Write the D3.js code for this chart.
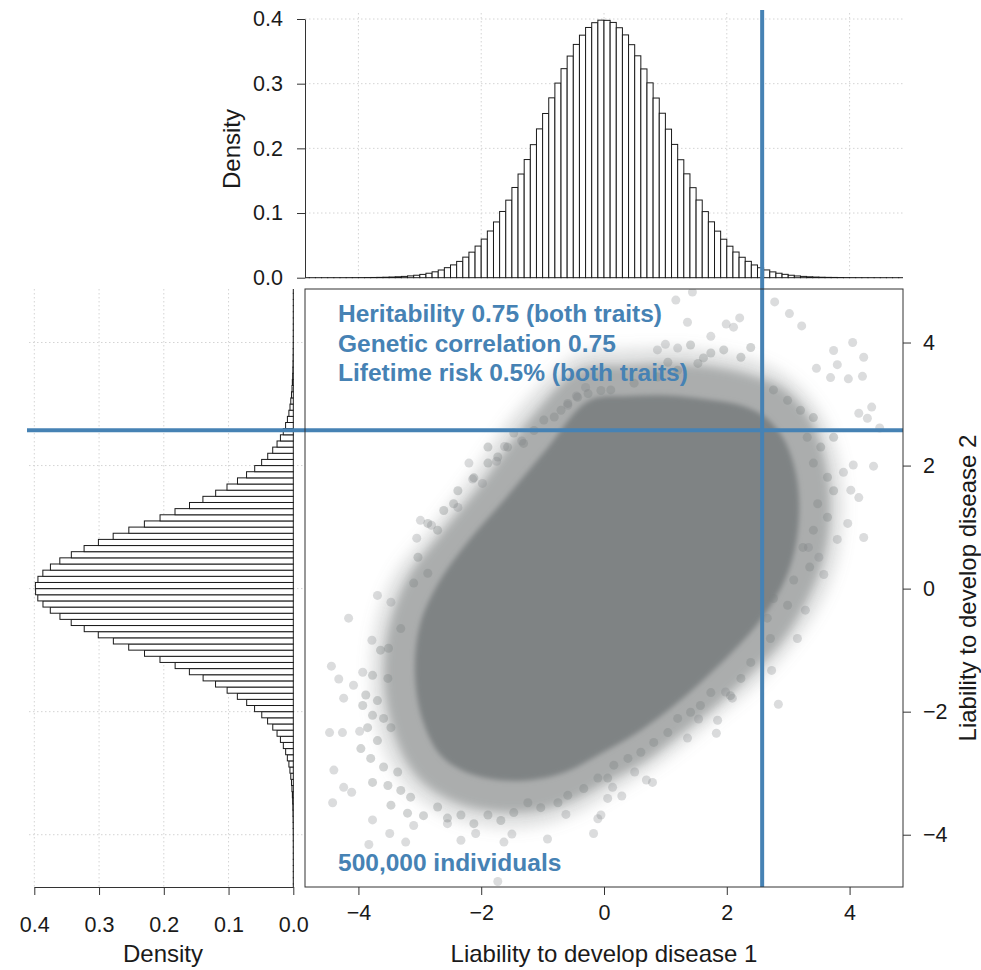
<!DOCTYPE html>
<html>
<head>
<meta charset="utf-8">
<script src="https://cdn.jsdelivr.net/npm/d3@7"></script>
<style>
  body { margin: 0; background: #fff; }
  svg { display: block; }
  text { font-family: "Liberation Sans", Arial, Helvetica, sans-serif; }
</style>
</head>
<body>
<svg id="chart" width="981" height="970"></svg>
<script>
// ---- histogram bins (width 0.1, first bin starts at -4.9) ----
const binStart = -4.9;
const binWidth = 0.1;

// Density of liability for disease 1 (top margin histogram)
const densityDisease1 = [
  0.00001, 0.00001, 0.00001, 0.00002, 0.00002, 0.00003, 0.00005, 0.00008, 0.00011, 0.00016,
  0.00024, 0.00036, 0.00052, 0.00074, 0.00104, 0.00146, 0.0020, 0.0028, 0.0038, 0.0051,
  0.0069, 0.0091, 0.0119, 0.0155, 0.0198, 0.0252, 0.0318, 0.0395, 0.0489, 0.0597,
  0.0722, 0.0862, 0.1024, 0.1199, 0.1395, 0.1603, 0.1827, 0.2057, 0.2301, 0.2539,
  0.2781, 0.3009, 0.3232, 0.3427, 0.3607, 0.3750, 0.3869, 0.3943, 0.3982,
  0.3979, 0.3947, 0.3865, 0.3754, 0.3603, 0.3431, 0.3228, 0.3013, 0.2778, 0.2543,
  0.2297, 0.2061, 0.1824, 0.1606, 0.1392, 0.1201, 0.1022, 0.0864, 0.0720, 0.0595,
  0.0487, 0.0397, 0.0316, 0.0253, 0.0197, 0.0154, 0.0120, 0.0090, 0.0069, 0.0052,
  0.0038, 0.0027, 0.0020, 0.0014, 0.0010, 0.0007, 0.0005, 0.0004, 0.00025, 0.00016,
  0.00011, 0.00007, 0.00005, 0.00003, 0.00002, 0.00002, 0.00001, 0.00001, 0.00001
];

// Density of liability for disease 2 (left margin histogram)
const densityDisease2 = [
  0.00001, 0.00001, 0.00002, 0.00002, 0.00003, 0.00004, 0.00005, 0.00007, 0.00011, 0.00017,
  0.00025, 0.00035, 0.00053, 0.00073, 0.00105, 0.00145, 0.0021, 0.0028, 0.0039, 0.0052,
  0.0068, 0.0092, 0.0118, 0.0154, 0.0199, 0.0251, 0.0317, 0.0397, 0.0487, 0.0598,
  0.0720, 0.0864, 0.1022, 0.1201, 0.1393, 0.1605, 0.1825, 0.2059, 0.2298, 0.2542,
  0.2779, 0.3012, 0.3229, 0.3430, 0.3604, 0.3753, 0.3866, 0.3946, 0.3980,
  0.3983, 0.3944, 0.3868, 0.3751, 0.3606, 0.3428, 0.3231, 0.3010, 0.2782, 0.2540,
  0.2300, 0.2058, 0.1827, 0.1603, 0.1396, 0.1199, 0.1024, 0.0862, 0.0722, 0.0596,
  0.0489, 0.0395, 0.0318, 0.0251, 0.0199, 0.0155, 0.0119, 0.0091, 0.0068, 0.0051,
  0.0039, 0.0028, 0.0020, 0.0015, 0.0010, 0.0007, 0.0005, 0.00035, 0.00024, 0.00016,
  0.00010, 0.00007, 0.00005, 0.00003, 0.00002, 0.00001, 0.00001, 0.00001, 0.00001
];

const liabilityTicks = [-4, -2, 0, 2, 4];
const densityTicks = [0, 0.1, 0.2, 0.3, 0.4];
const threshold = 2.576; // liability threshold for 0.5% lifetime risk

const annotationLines = [
  "Heritability 0.75 (both traits)",
  "Genetic correlation 0.75",
  "Lifetime risk 0.5% (both traits)"
];
const sampleLabel = "500,000 individuals";
const xTitle = "Liability to develop disease 1";
const yTitle = "Liability to develop disease 2";
const densityTitle = "Density";

// Outline of the saturated part of the point cloud (liability units)
const cloudCore = [
  [-0.25, 3.05], [0.4, 3.13], [1.05, 3.14], [1.65, 3.08], [2.15, 3.0], [2.58, 2.82],
  [2.9, 2.48], [3.1, 1.98], [3.18, 1.35], [3.1, 0.6], [2.88, 0.0], [2.52, -0.55],
  [2.1, -1.02], [1.57, -1.53], [1.04, -1.98], [0.48, -2.38], [-0.05, -2.68], [-0.6, -2.97],
  [-1.1, -3.1], [-1.6, -3.12], [-2.2, -3.0], [-2.65, -2.72], [-2.95, -2.15], [-3.08, -1.38],
  [-3.0, -0.6], [-2.72, 0.05], [-2.25, 0.72], [-1.62, 1.45], [-0.95, 2.25]
];
// Outline of the half-saturated fringe
const cloudFringe = [
  [-0.4, 3.55], [0.4, 3.63], [1.1, 3.66], [1.8, 3.6], [2.4, 3.47], [2.92, 3.25],
  [3.33, 2.8], [3.58, 2.15], [3.68, 1.35], [3.58, 0.5], [3.3, -0.2], [2.9, -0.85],
  [2.42, -1.35], [1.88, -1.85], [1.3, -2.32], [0.7, -2.78], [0.08, -3.12], [-0.55, -3.45],
  [-1.15, -3.62], [-1.8, -3.62], [-2.48, -3.45], [-3.05, -3.05], [-3.42, -2.35], [-3.58, -1.42],
  [-3.48, -0.55], [-3.18, 0.2], [-2.65, 0.9], [-1.98, 1.72], [-1.25, 2.7]
];
// Outline of the faint outer haze
const cloudHaze = [
  [-0.45, 3.8], [0.4, 3.9], [1.15, 3.92], [1.85, 3.85], [2.5, 3.7], [3.05, 3.4],
  [3.5, 2.9], [3.8, 2.2], [3.9, 1.35], [3.8, 0.45], [3.5, -0.3], [3.05, -0.95],
  [2.55, -1.5], [1.95, -2.0], [1.35, -2.5], [0.75, -2.95], [0.1, -3.35], [-0.55, -3.7],
  [-1.2, -3.88], [-1.85, -3.88], [-2.6, -3.68], [-3.25, -3.2], [-3.65, -2.45], [-3.8, -1.45],
  [-3.7, -0.5], [-3.4, 0.25], [-2.85, 0.95], [-2.2, 1.8], [-1.45, 2.85]
];
// Individuals along the edge of the dense cloud
const fringePoints = [
  [-3.31, -0.65], [-3.64, -1.00], [-3.51, -0.97], [-3.77, -1.41], [-3.52, -1.46], [-3.88, -1.73],
  [-3.69, -1.82], [-3.93, -1.90], [-3.77, -2.06], [-3.59, -2.11], [-3.85, -2.26], [-3.47, -2.26],
  [-3.69, -2.47], [-3.96, -2.60], [-3.80, -2.76], [-3.59, -2.90], [-3.36, -2.98], [-3.77, -3.15],
  [-3.52, -3.20], [-3.31, -3.28], [-3.15, -3.39], [-3.47, -3.52], [-3.20, -3.65], [-2.94, -3.69],
  [-2.71, -3.55], [-2.55, -3.73], [-2.33, -3.68], [-2.12, -3.82], [-1.89, -3.68], [-1.68, -3.77],
  [-1.47, -3.64], [-1.24, -3.48], [-1.03, -3.56], [-0.75, -3.48], [-0.59, -3.36], [-0.33, -3.25],
  [-0.10, -3.08],
  [-2.87, 1.06], [-2.71, 0.95], [-2.61, 1.27], [-2.45, 1.38], [-2.38, 1.59], [-2.12, 1.80],
  [-1.89, 2.04], [-1.73, 2.14], [-1.89, 2.30], [-1.57, 2.30], [-1.47, 2.53], [-1.31, 2.36],
  [-1.14, 2.57], [-0.98, 2.74], [-0.81, 2.79], [-0.70, 2.90], [-0.59, 3.01], [-0.43, 3.11],
  [-0.26, 3.17], [-0.05, 3.22], [-3.03, 0.51], [-2.87, 0.25], [-3.10, 0.09],
  [0.11, 3.23], [0.49, 3.34], [0.87, 3.44], [1.20, 3.55], [1.53, 3.66], [1.74, 3.83],
  [1.95, 3.88], [2.23, 3.76], [2.39, 3.92], [1.41, 3.96], [1.62, 3.75], [1.04, 3.68],
  [2.76, 3.23], [2.99, 3.06], [3.20, 2.90], [3.41, 2.78], [3.31, 2.46], [3.53, 2.30],
  [3.74, 2.46], [3.41, 2.04], [3.64, 1.81], [3.74, 1.59], [3.48, 1.38], [3.64, 1.16],
  [3.41, 0.95], [3.24, 0.67], [3.35, 0.35], [3.09, 0.14],
  [2.76, -0.16], [2.99, -0.27], [2.66, -0.48], [2.71, -0.81], [2.39, -1.20], [2.23, -1.46],
  [2.06, -1.74], [1.74, -1.69], [1.57, -1.90], [1.41, -2.01], [1.20, -2.11], [1.04, -2.34],
  [0.81, -2.50], [0.60, -2.66], [0.39, -2.76], [0.16, -2.87], [0.06, -3.08]
];
// Individuals lying well outside the dense cloud
const outlierPoints = [
  [2.78, 4.66], [3.02, 4.47], [3.22, 4.27], [1.17, 4.69], [1.36, 4.33], [1.99, 4.30],
  [2.11, 4.25], [2.21, 4.40], [1.44, 4.82], [4.05, 4.00], [4.23, 3.76], [3.74, 3.87],
  [3.80, 3.64], [3.98, 3.41], [4.21, 3.45], [3.69, 3.43], [3.46, 3.58], [4.36, 2.95],
  [4.15, 2.85], [4.29, 2.77], [4.49, 2.61], [4.39, 1.99], [4.06, 2.01], [3.90, 1.89],
  [4.02, 1.60], [4.15, 1.48], [4.23, 0.83], [3.97, 1.06], [3.80, 0.80], [1.74, 4.10],
  [1.00, 3.97], [0.87, 3.88], [1.20, 3.91], [3.50, 0.51], [3.33, 0.67], [3.58, 0.23],
  [3.15, -0.81], [3.28, -0.35], [2.73, -1.33], [2.84, -1.88], [1.85, -2.14], [1.83, -2.35],
  [2.09, -1.78], [1.98, -1.68], [1.54, -2.12], [1.36, -2.43], [0.79, -3.15], [0.69, -3.11],
  [0.50, -2.98], [0.29, -3.37], [0.06, -3.41], [0.14, -3.23], [-0.05, -3.68],
  [-4.16, -0.48], [-4.44, -1.26], [-4.32, -1.47], [-4.24, -1.78], [-4.47, -2.34], [-4.26, -2.34],
  [-3.98, -2.32], [-4.40, -2.95], [-4.24, -3.23], [-4.11, -3.31], [-4.42, -3.48], [-3.78, -0.84],
  [-3.69, -0.11], [-3.47, -0.22], [-3.77, -3.76], [-3.83, -4.16], [-3.49, -3.98], [-3.10, -3.85],
  [-3.23, -4.12], [-2.55, -3.82], [-2.33, -4.09], [-2.09, -3.98], [-1.63, -4.12], [-1.50, -3.99],
  [-0.92, -4.07], [-0.17, -3.98], [-0.10, -3.74], [-0.62, -3.67], [-1.73, -4.76], [-4.08, -1.57],
  [-3.93, -1.36], [-3.05, 0.82], [-2.99, 1.11], [-2.20, 2.04], [-2.14, 1.78], [-1.98, 1.71],
  [-2.38, 1.32], [-2.81, 1.03], [-1.62, 2.31], [-1.34, 2.40], [-0.45, 3.13], [-0.30, 3.27],
  [-0.59, 2.98], [-1.75, 2.07]
];

// ---- scales ----
const x = d3.scaleLinear().domain([-4.87, 4.87]).range([305, 903]);
const y = d3.scaleLinear().domain([-4.85, 4.87]).range([887, 289]);
const topDens = d3.scaleLinear().domain([0, 0.4]).range([277.7, 19]);
const leftDens = d3.scaleLinear().domain([0, 0.4]).range([293.3, 34.3]);

const svg = d3.select("#chart");
const blue = "#4682b4";
const ink = "#1a1a1a";
const gridColor = "#d4d4d4";
const pointColor = "#7f8384";
const fmt = d3.format(".1f");

// ---- clip paths & blur filters ----
const defs = svg.append("defs");
defs.append("clipPath").attr("id", "clipMain")
  .append("rect").attr("x", x.range()[0]).attr("y", y.range()[1])
  .attr("width", x.range()[1] - x.range()[0]).attr("height", y.range()[0] - y.range()[1]);
defs.append("clipPath").attr("id", "clipTop")
  .append("rect").attr("x", x.range()[0]).attr("y", 0)
  .attr("width", x.range()[1] - x.range()[0]).attr("height", 290);
defs.append("clipPath").attr("id", "clipLeft")
  .append("rect").attr("x", 0).attr("y", y.range()[1])
  .attr("width", 300).attr("height", y.range()[0] - y.range()[1]);
[["blurCore", 2.5], ["blurFringe", 5], ["blurHaze", 7]].forEach(([id, s]) => {
  defs.append("filter").attr("id", id).attr("x", "-20%").attr("y", "-20%")
    .attr("width", "140%").attr("height", "140%")
    .append("feGaussianBlur").attr("stdDeviation", s);
});

// ---- grids ----
const grid = svg.append("g").attr("stroke", gridColor).attr("stroke-width", 1)
  .attr("stroke-dasharray", "1.5,2.5").attr("fill", "none");
// top histogram
grid.selectAll(".gt-v").data(liabilityTicks).join("line")
  .attr("x1", d => x(d)).attr("x2", d => x(d)).attr("y1", 13).attr("y2", topDens(0));
grid.selectAll(".gt-h").data(densityTicks.slice(1)).join("line")
  .attr("x1", x.range()[0]).attr("x2", x.range()[1]).attr("y1", d => topDens(d)).attr("y2", d => topDens(d));
// left histogram
grid.selectAll(".gl-h").data(liabilityTicks).join("line")
  .attr("x1", 29).attr("x2", 303).attr("y1", d => y(d)).attr("y2", d => y(d));
grid.selectAll(".gl-v").data(densityTicks.slice(1)).join("line")
  .attr("x1", d => leftDens(d)).attr("x2", d => leftDens(d)).attr("y1", 289).attr("y2", y.range()[0]);

// ---- top histogram (disease 1) ----
svg.append("g").attr("clip-path", "url(#clipTop)")
  .selectAll("rect").data(densityDisease1).join("rect")
  .attr("x", (d, i) => x(binStart + i * binWidth))
  .attr("width", (d, i) => x(binStart + (i + 1) * binWidth) - x(binStart + i * binWidth))
  .attr("y", d => topDens(d))
  .attr("height", d => topDens(0) - topDens(d))
  .attr("fill", "#fff").attr("stroke", ink).attr("stroke-width", 1);

// ---- left histogram (disease 2), bars grow leftwards ----
svg.append("g").attr("clip-path", "url(#clipLeft)")
  .selectAll("rect").data(densityDisease2).join("rect")
  .attr("y", (d, i) => y(binStart + (i + 1) * binWidth))
  .attr("height", (d, i) => y(binStart + i * binWidth) - y(binStart + (i + 1) * binWidth))
  .attr("x", d => leftDens(d))
  .attr("width", d => leftDens(0) - leftDens(d))
  .attr("fill", "#fff").attr("stroke", ink).attr("stroke-width", 1);

// ---- scatter cloud ----
const cloud = svg.append("g").attr("clip-path", "url(#clipMain)");
const outline = d3.line().x(d => x(d[0])).y(d => y(d[1])).curve(d3.curveCatmullRomClosed);
cloud.append("path").attr("d", outline(cloudHaze))
  .attr("fill", pointColor).attr("fill-opacity", 0.25).attr("filter", "url(#blurHaze)");
cloud.append("path").attr("d", outline(cloudFringe))
  .attr("fill", pointColor).attr("fill-opacity", 0.55).attr("filter", "url(#blurFringe)");
cloud.append("path").attr("d", outline(cloudCore))
  .attr("fill", pointColor).attr("filter", "url(#blurCore)");
cloud.append("g").selectAll("circle").data(fringePoints).join("circle")
  .attr("cx", d => x(d[0])).attr("cy", d => y(d[1])).attr("r", 4.5)
  .attr("fill", pointColor).attr("fill-opacity", 0.35);
cloud.append("g").selectAll("circle").data(outlierPoints).join("circle")
  .attr("cx", d => x(d[0])).attr("cy", d => y(d[1])).attr("r", 4.5)
  .attr("fill", pointColor).attr("fill-opacity", 0.28);

// ---- threshold lines ----
svg.append("line")
  .attr("x1", x(threshold)).attr("x2", x(threshold)).attr("y1", 10).attr("y2", y.range()[0])
  .attr("stroke", blue).attr("stroke-width", 4);
svg.append("line")
  .attr("x1", 27).attr("x2", x.range()[1]).attr("y1", y(threshold)).attr("y2", y(threshold))
  .attr("stroke", blue).attr("stroke-width", 4);

// ---- main panel box ----
svg.append("rect")
  .attr("x", x.range()[0]).attr("y", y.range()[1])
  .attr("width", x.range()[1] - x.range()[0]).attr("height", y.range()[0] - y.range()[1])
  .attr("fill", "none").attr("stroke", "#333").attr("stroke-width", 1);

// ---- axes ----
function styleAxis(g, size, keepDomain) {
  g.selectAll(".tick line").attr("stroke", "#333");
  g.selectAll(".tick text").attr("fill", ink).style("font-size", size + "px");
  if (!keepDomain) g.select(".domain").remove();
  else g.select(".domain").attr("stroke", "#333");
}

// main x axis (bottom)
svg.append("g").attr("transform", `translate(0,${y.range()[0]})`)
  .call(d3.axisBottom(x).tickValues(liabilityTicks).tickSize(8).tickPadding(10))
  .call(g => styleAxis(g, 21.5, false));

// main y axis (right)
svg.append("g").attr("transform", `translate(${x.range()[1]},0)`)
  .call(d3.axisRight(y).tickValues(liabilityTicks).tickSize(8).tickPadding(12))
  .call(g => styleAxis(g, 21.5, false));

// top histogram density axis (left)
svg.append("g").attr("transform", `translate(${x.range()[0]},0)`)
  .call(d3.axisLeft(topDens).tickValues(densityTicks).tickFormat(fmt).tickSize(8).tickSizeOuter(0).tickPadding(14))
  .call(g => styleAxis(g, 21.5, true));

// left histogram density axis (bottom)
svg.append("g").attr("transform", `translate(0,${y.range()[0]})`)
  .call(d3.axisBottom(leftDens).tickValues(densityTicks).tickFormat(fmt).tickSize(8).tickSizeOuter(0).tickPadding(22))
  .call(g => styleAxis(g, 21.5, true));

// ---- axis titles ----
svg.append("text").attr("x", 604).attr("y", 962).attr("text-anchor", "middle")
  .style("font-size", "24px").attr("fill", ink).text(xTitle);
svg.append("text").attr("transform", "translate(976,588) rotate(-90)").attr("text-anchor", "middle")
  .style("font-size", "24px").attr("fill", ink).text(yTitle);
svg.append("text").attr("transform", "translate(240,149) rotate(-90)").attr("text-anchor", "middle")
  .style("font-size", "24px").attr("fill", ink).text(densityTitle);
svg.append("text").attr("x", 163).attr("y", 962).attr("text-anchor", "middle")
  .style("font-size", "24px").attr("fill", ink).text(densityTitle);

// ---- annotations ----
svg.append("g").selectAll("text").data(annotationLines).join("text")
  .attr("x", 338).attr("y", (d, i) => 322 + i * 29.5)
  .style("font-size", "24.5px").style("font-weight", "bold").attr("fill", blue)
  .text(d => d);
svg.append("text").attr("x", 338).attr("y", 871)
  .style("font-size", "24.5px").style("font-weight", "bold").attr("fill", blue)
  .text(sampleLabel);
</script>
</body>
</html>
